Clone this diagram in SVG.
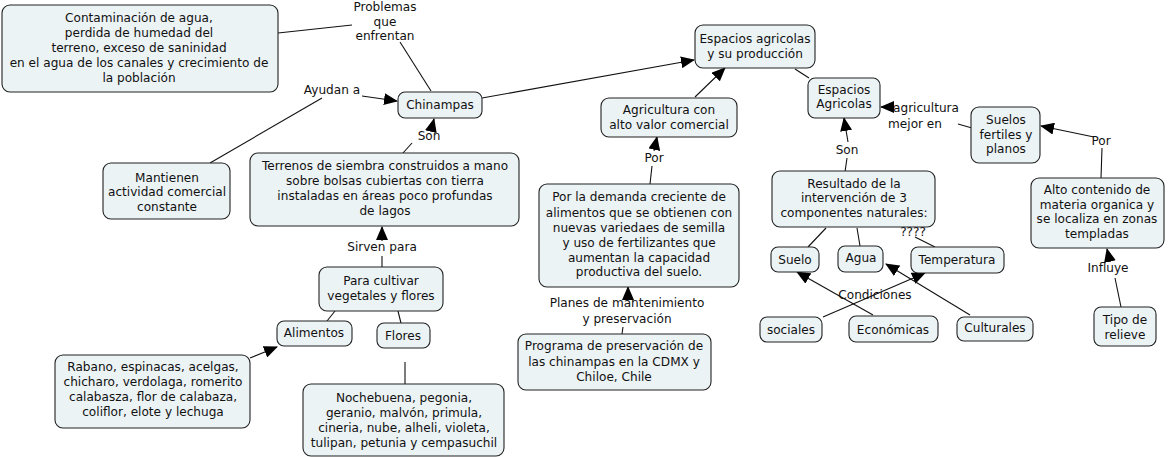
<svg xmlns="http://www.w3.org/2000/svg" width="1168" height="457" viewBox="0 0 1168 457">
<defs>
<marker id="ah" markerUnits="userSpaceOnUse" markerWidth="14" markerHeight="12" viewBox="0 0 14 12" refX="13" refY="6" orient="auto">
<path d="M0,0 L14,6 L0,12 z" fill="#000"/>
</marker>
</defs>
<style>
.n rect{fill:#ecf3f5;stroke:#222;stroke-width:1.1}
text{font-family:"DejaVu Sans",Verdana,sans-serif;font-size:12.1px;fill:#111;text-anchor:middle;dominant-baseline:central}
#connectors line{stroke:#111;stroke-width:1.1;fill:none}
#connectors line.a{marker-end:url(#ah)}
</style>
<rect width="1168" height="457" fill="#fff"/>
<g id="connectors">
<line x1="278" y1="33" x2="352" y2="25"/>
<line x1="400" y1="42" x2="431" y2="91"/>
<line x1="210" y1="163" x2="322" y2="98"/>
<line class="a" x1="362" y1="96" x2="397" y2="101"/>
<line x1="403" y1="153" x2="412" y2="143"/>
<line class="a" x1="431" y1="131" x2="434" y2="119"/>
<line x1="382" y1="267" x2="382" y2="256"/>
<line class="a" x1="382" y1="241" x2="382" y2="227"/>
<line x1="335" y1="311" x2="327" y2="321"/>
<line x1="398" y1="311" x2="401" y2="323"/>
<line class="a" x1="250" y1="358" x2="277" y2="347"/>
<line x1="405" y1="362" x2="405" y2="384"/>
<line class="a" x1="482" y1="98" x2="694" y2="60"/>
<line class="a" x1="695" y1="97" x2="725" y2="68"/>
<line x1="650" y1="184" x2="652" y2="166"/>
<line class="a" x1="654" y1="151" x2="657" y2="137"/>
<line x1="622" y1="334" x2="623" y2="327"/>
<line class="a" x1="628" y1="299" x2="628" y2="287"/>
<line x1="795" y1="69" x2="809" y2="78"/>
<line x1="845" y1="172" x2="847" y2="158"/>
<line class="a" x1="848" y1="142" x2="844" y2="118"/>
<line class="a" x1="895" y1="107" x2="881" y2="107"/>
<line x1="972" y1="128" x2="958" y2="124"/>
<line class="a" x1="1094" y1="137" x2="1041" y2="126"/>
<line x1="1101" y1="178" x2="1102" y2="148"/>
<line class="a" x1="1110" y1="262" x2="1107" y2="249"/>
<line x1="1115" y1="278" x2="1121" y2="307"/>
<line x1="826" y1="228" x2="808" y2="247"/>
<line x1="857" y1="228" x2="860" y2="246"/>
<line x1="915" y1="237" x2="935" y2="247"/>
<line class="a" x1="823" y1="317" x2="925" y2="273"/>
<line class="a" x1="873" y1="315" x2="797" y2="272"/>
<line class="a" x1="970" y1="315" x2="886" y2="264"/>
</g>
<g id="labels">
<text x="385" y="7">Problemas</text>
<text x="385" y="22">que</text>
<text x="385" y="36">enfrentan</text>
<text x="332" y="90">Ayudan a</text>
<text x="429" y="136">Son</text>
<text x="382" y="247">Sirven para</text>
<text x="654" y="158">Por</text>
<text x="627" y="303">Planes de mantenimiento</text>
<text x="627" y="319">y preservación</text>
<text x="847" y="150">Son</text>
<text x="926" y="108">agricultura</text>
<text x="915" y="124">mejor en</text>
<text x="1101" y="141">Por</text>
<text x="1108" y="268">Influye</text>
<text x="913" y="232">????</text>
<text x="875" y="295">Condiciones</text>
</g>
<g id="contaminacion" class="n"><rect x="2" y="5" width="276" height="87" rx="8"/>
<text x="139" y="18">Contaminación de agua,</text><text x="139" y="33">perdida de humedad del</text><text x="139" y="48">terreno, exceso de saninidad</text><text x="139" y="63">en el agua de los canales y crecimiento de</text><text x="139" y="78">la población</text></g>
<g id="chinampas" class="n"><rect x="398" y="92" width="84" height="26" rx="7"/><text x="440" y="105">Chinampas</text></g>
<g id="mantienen" class="n"><rect x="103" y="163" width="127" height="56" rx="8"/>
<text x="167" y="178">Mantienen</text><text x="167" y="192">actividad comercial</text><text x="167" y="207">constante</text></g>
<g id="terrenos" class="n"><rect x="250" y="153" width="269" height="73" rx="8"/>
<text x="385" y="166">Terrenos de siembra construidos a mano</text><text x="385" y="181">sobre bolsas cubiertas con tierra</text><text x="385" y="196">instaladas en áreas poco profundas</text><text x="385" y="211">de lagos</text></g>
<g id="cultivar" class="n"><rect x="319" y="267" width="124" height="44" rx="8"/>
<text x="381" y="281">Para cultivar</text><text x="381" y="296">vegetales y flores</text></g>
<g id="alimentos" class="n"><rect x="277" y="321" width="75" height="25" rx="7"/><text x="314" y="333">Alimentos</text></g>
<g id="flores" class="n"><rect x="377" y="323" width="53" height="25" rx="7"/><text x="403" y="336">Flores</text></g>
<g id="rabano" class="n"><rect x="55" y="355" width="195" height="73" rx="8"/>
<text x="153" y="367">Rabano, espinacas, acelgas,</text><text x="153" y="382">chicharo, verdolaga, romerito</text><text x="153" y="397">calabasza, flor de calabaza,</text><text x="153" y="412">coliflor, elote y lechuga</text></g>
<g id="nochebuena" class="n"><rect x="303" y="384" width="201" height="72" rx="8"/>
<text x="404" y="398">Nochebuena, pegonia,</text><text x="404" y="413">geranio, malvón, primula,</text><text x="404" y="428">cineria, nube, alheli, violeta,</text><text x="404" y="443">tulipan, petunia y cempasuchil</text></g>
<g id="espacios-produccion" class="n"><rect x="695" y="25" width="120" height="43" rx="8"/>
<text x="755" y="39">Espacios agricolas</text><text x="755" y="54">y su producción</text></g>
<g id="agricultura" class="n"><rect x="601" y="98" width="136" height="39" rx="8"/>
<text x="669" y="110">Agricultura con</text><text x="669" y="125">alto valor comercial</text></g>
<g id="demanda" class="n"><rect x="539" y="184" width="200" height="103" rx="8"/>
<text x="639" y="197">Por la demanda creciente de</text><text x="639" y="213">alimentos que se obtienen con</text><text x="639" y="228">nuevas variedaes de semilla</text><text x="639" y="243">y uso de fertilizantes que</text><text x="639" y="258">aumentan la capacidad</text><text x="639" y="272">productiva del suelo.</text></g>
<g id="programa" class="n"><rect x="518" y="334" width="193" height="56" rx="8"/>
<text x="614" y="346">Programa de preservación de</text><text x="614" y="362">las chinampas en la CDMX y</text><text x="614" y="377">Chiloe, Chile</text></g>
<g id="espacios-agricolas" class="n"><rect x="808" y="78" width="72" height="40" rx="7"/>
<text x="844" y="90">Espacios</text><text x="844" y="104">Agricolas</text></g>
<g id="suelos" class="n"><rect x="971" y="107" width="69" height="56" rx="8"/>
<text x="1006" y="120">Suelos</text><text x="1006" y="135">fertiles y</text><text x="1006" y="149">planos</text></g>
<g id="alto" class="n"><rect x="1031" y="178" width="133" height="70" rx="8"/>
<text x="1097" y="190">Alto contenido de</text><text x="1097" y="205">materia organica y</text><text x="1097" y="219">se localiza en zonas</text><text x="1097" y="234">templadas</text></g>
<g id="relieve" class="n"><rect x="1094" y="307" width="62" height="39" rx="7"/>
<text x="1125" y="320">Tipo de</text><text x="1125" y="335">relieve</text></g>
<g id="resultado" class="n"><rect x="772" y="171" width="163" height="56" rx="8"/>
<text x="854" y="184">Resultado de la</text><text x="854" y="198">intervención de 3</text><text x="854" y="213">componentes naturales:</text></g>
<g id="suelo" class="n"><rect x="771" y="247" width="48" height="25" rx="7"/><text x="795" y="260">Suelo</text></g>
<g id="agua" class="n"><rect x="838" y="246" width="45" height="26" rx="7"/><text x="861" y="258">Agua</text></g>
<g id="temperatura" class="n"><rect x="911" y="247" width="93" height="26" rx="7"/><text x="957" y="260">Temperatura</text></g>
<g id="sociales" class="n"><rect x="760" y="317" width="62" height="25" rx="7"/><text x="791" y="330">sociales</text></g>
<g id="economicas" class="n"><rect x="849" y="316" width="89" height="26" rx="7"/><text x="893" y="330">Económicas</text></g>
<g id="culturales" class="n"><rect x="957" y="317" width="76" height="24" rx="7"/><text x="995" y="328">Culturales</text></g>
</svg>
